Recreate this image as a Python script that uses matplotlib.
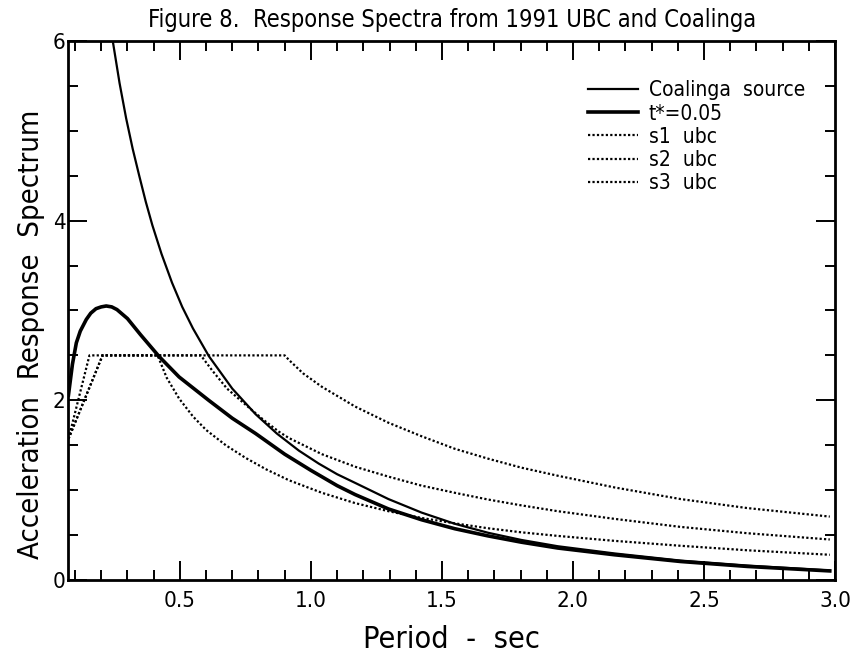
import matplotlib
matplotlib.use("Agg")
import matplotlib.pyplot as plt
from matplotlib.ticker import MultipleLocator, FormatStrFormatter

# values (period in sec, spectral acceleration)
coal_T = [0.236, 0.244, 0.27, 0.295, 0.32, 0.345, 0.37, 0.395, 0.43, 0.47,
          0.509, 0.55, 0.611, 0.70, 0.789, 0.87, 0.954, 1.03, 1.10, 1.169,
          1.296, 1.422, 1.549, 1.676, 1.803, 1.942, 2.158, 2.411, 2.665, 2.98]
coal_sa = [6.17, 6.0, 5.53, 5.14, 4.80, 4.50, 4.21, 3.95, 3.63, 3.31,
           3.04, 2.80, 2.49, 2.13, 1.845, 1.63, 1.44, 1.295, 1.177, 1.08,
           0.90, 0.75, 0.625, 0.525, 0.445, 0.375, 0.295, 0.215, 0.16, 0.105]

tstar_T = [0.075, 0.09, 0.105, 0.12, 0.143, 0.16, 0.18, 0.20, 0.219, 0.24,
           0.26, 0.28, 0.30, 0.35, 0.42, 0.497, 0.61, 0.70, 0.789, 0.90,
           1.00, 1.10, 1.169, 1.296, 1.422, 1.549, 1.676, 1.803, 1.942, 2.158,
           2.411, 2.665, 2.98]
tstar_sa = [2.06, 2.40, 2.64, 2.77, 2.90, 2.97, 3.02, 3.04, 3.05, 3.04,
            3.01, 2.96, 2.91, 2.73, 2.49, 2.26, 2.00, 1.80, 1.63, 1.40,
            1.22, 1.05, 0.95, 0.79, 0.67, 0.57, 0.49, 0.42, 0.355, 0.28,
            0.205, 0.15, 0.10]

s1_T = [0.075, 0.155, 0.415, 0.45, 0.497, 0.55, 0.60, 0.675, 0.75, 0.83,
        0.916, 1.042, 1.169, 1.296, 1.422, 1.549, 1.676, 1.803, 1.942, 2.158,
        2.411, 2.665, 2.98]
s1_sa = [1.57, 2.5, 2.5, 2.25, 2.02, 1.82, 1.67, 1.50, 1.36, 1.23,
         1.11, 0.97, 0.855, 0.765, 0.69, 0.63, 0.575, 0.53, 0.49, 0.435,
         0.38, 0.33, 0.28]

s2_T = [0.075, 0.205, 0.58, 0.624, 0.68, 0.751, 0.82, 0.878, 0.916, 1.042,
        1.169, 1.296, 1.422, 1.549, 1.676, 1.803, 1.942, 2.158, 2.411, 2.665,
        2.98]
s2_sa = [1.57, 2.5, 2.5, 2.33, 2.13, 1.95, 1.78, 1.65, 1.58, 1.40,
         1.26, 1.15, 1.05, 0.97, 0.895, 0.83, 0.765, 0.68, 0.59, 0.52,
         0.45]

s3_T = [0.075, 0.205, 0.90, 0.916, 0.97, 1.042, 1.169, 1.296, 1.422, 1.549,
        1.676, 1.803, 1.942, 2.158, 2.411, 2.665, 2.98]
s3_sa = [1.57, 2.5, 2.5, 2.45, 2.30, 2.15, 1.93, 1.75, 1.60, 1.46,
         1.35, 1.25, 1.16, 1.03, 0.90, 0.80, 0.705]

labels = ["Coalinga  source", "t*=0.05", "s1  ubc", "s2  ubc", "s3  ubc"]

plt.rcParams["font.family"] = ["DejaVu Sans"]
plt.rcParams["font.stretch"] = "condensed"

fig = plt.figure(figsize=(8.56, 6.62), dpi=100)
ax = fig.add_axes([0.080, 0.124, 0.8955, 0.814])

dot = (0, (1, 1))
ax.plot(coal_T, coal_sa, color="black", lw=1.6, label=labels[0])
ax.plot(tstar_T, tstar_sa, color="black", lw=2.6, label=labels[1])
ax.plot(s1_T, s1_sa, color="black", lw=1.6, ls=dot, label=labels[2])
ax.plot(s2_T, s2_sa, color="black", lw=1.6, ls=dot, label=labels[3])
ax.plot(s3_T, s3_sa, color="black", lw=1.6, ls=dot, label=labels[4])

ax.set_xlim(0.075, 3.0)
ax.set_ylim(0, 6)

ax.xaxis.set_major_locator(MultipleLocator(0.5))
ax.xaxis.set_minor_locator(MultipleLocator(0.1))
ax.xaxis.set_major_formatter(FormatStrFormatter("%.1f"))
ax.yaxis.set_major_locator(MultipleLocator(2))
ax.yaxis.set_minor_locator(MultipleLocator(0.5))
ax.yaxis.set_major_formatter(FormatStrFormatter("%d"))

ax.tick_params(which="both", direction="in", top=True, right=True, width=1.4, color="black")
ax.tick_params(which="major", length=14)
ax.tick_params(which="minor", length=7)
ax.tick_params(axis="x", which="major", labelsize=16, pad=8)
ax.tick_params(axis="y", which="major", labelsize=16, pad=2)
for sp in ax.spines.values():
    sp.set_linewidth(2)

ax.set_xlabel("Period  -  sec", fontsize=22, labelpad=10)
ax.set_ylabel("Acceleration  Response  Spectrum", fontsize=21)
ax.yaxis.set_label_coords(-0.031, 0.455)
ax.set_title("Figure 8.  Response Spectra from 1991 UBC and Coalinga", fontsize=17, pad=10)

ax.legend(loc="upper right", bbox_to_anchor=(0.977, 0.95), frameon=False,
          fontsize=15, handlelength=2.4, handletextpad=0.5, labelspacing=0.15,
          borderaxespad=0.2)

fig.savefig("out.png", dpi=100)
